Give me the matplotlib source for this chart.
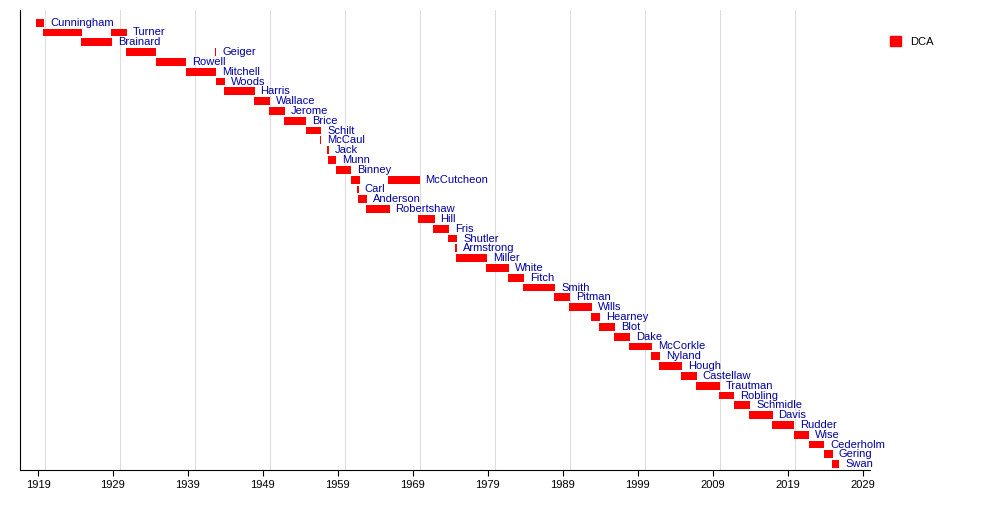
import matplotlib
matplotlib.use('Agg')
import matplotlib.pyplot as plt
from matplotlib.patches import Patch

plt.rcParams['font.family'] = ['Liberation Sans', 'DejaVu Sans']

# row, start, end, label
rows = [0, 1, 1, 2, 3, 3, 4, 5, 6, 7, 8, 9, 10, 11, 12, 13, 14, 15, 16, 16,
        17, 18, 19, 20, 21, 22, 23, 24, 25, 26, 27, 28, 29, 30, 31, 32, 33,
        34, 35, 36, 37, 38, 39, 40, 41, 42, 43, 44, 45]
starts = [1918.7, 1919.7, 1928.7, 1924.7, 1930.7, 1942.6, 1934.7, 1938.7, 1942.7,
          1943.8, 1947.8, 1949.8, 1951.8, 1954.7, 1956.6, 1957.6, 1957.7, 1958.7,
          1960.7, 1965.7, 1961.6, 1961.7, 1962.8, 1969.7, 1971.7, 1973.7, 1974.7,
          1974.8, 1978.8, 1981.7, 1983.7, 1987.8, 1989.8, 1992.8, 1993.8, 1995.8,
          1997.8, 2000.8, 2001.8, 2004.8, 2006.8, 2009.8, 2011.8, 2013.8, 2016.9,
          2019.8, 2021.8, 2023.8, 2024.9]
ends = [1919.8, 1924.9, 1930.9, 1928.9, 1934.8, 1942.8, 1938.8, 1942.8, 1943.9,
        1947.9, 1949.9, 1951.9, 1954.8, 1956.8, 1956.8, 1957.8, 1958.8, 1960.8,
        1961.9, 1969.9, 1961.8, 1962.9, 1965.9, 1971.9, 1973.9, 1974.9, 1974.9,
        1978.9, 1981.8, 1983.8, 1988.0, 1990.0, 1992.9, 1994.0, 1996.0, 1998.0,
        2000.9, 2002.0, 2004.9, 2006.9, 2010.0, 2011.9, 2014.0, 2017.0, 2019.9,
        2021.9, 2023.9, 2025.0, 2025.9]
labels = ['Cunningham', '', 'Turner', 'Brainard', '', 'Geiger', 'Rowell', 'Mitchell',
          'Woods', 'Harris', 'Wallace', 'Jerome', 'Brice', 'Schilt', 'McCaul', 'Jack',
          'Munn', 'Binney', '', 'McCutcheon', 'Carl', 'Anderson', 'Robertshaw', 'Hill',
          'Fris', 'Shutler', 'Armstrong', 'Miller', 'White', 'Fitch', 'Smith', 'Pitman',
          'Wills', 'Hearney', 'Blot', 'Dake', 'McCorkle', 'Nyland', 'Hough', 'Castellaw',
          'Trautman', 'Robling', 'Schmidle', 'Davis', 'Rudder', 'Wise', 'Cederholm',
          'Gering', 'Swan']

ticks = list(range(1919, 2030, 10))
grid_years = list(range(1920, 2030, 10))

fig = plt.figure(figsize=(10, 5.2), dpi=100)
ax = fig.add_axes([0.02, 0.096, 0.85, 0.885])

for y in grid_years:
    ax.axvline(y, color='#dddddd', lw=0.8, zorder=0)

for r, s, e, lab in zip(rows, starts, ends, labels):
    ax.barh(r, e - s, left=s, height=0.8, color='#ff0000', zorder=2)
    if lab:
        ax.text(e + 0.8, r, lab, color='#0000a0', fontsize=8, va='center', zorder=3)

ax.set_xlim(1916.6, 2030)
ax.set_ylim(45.6, -1.3)
ax.set_yticks([])
ax.set_xticks(ticks)
ax.set_xticklabels([str(t) for t in ticks], fontsize=8)
ax.tick_params(axis='x', length=4, direction='out')
for sp in ['top', 'right']:
    ax.spines[sp].set_visible(False)

fig.legend(handles=[Patch(color='#ff0000', label='DCA')], loc='upper left',
           bbox_to_anchor=(0.88, 0.95), frameon=False, fontsize=8,
           handlelength=1.0, handleheight=1.0)

fig.savefig('out.png', dpi=100)
